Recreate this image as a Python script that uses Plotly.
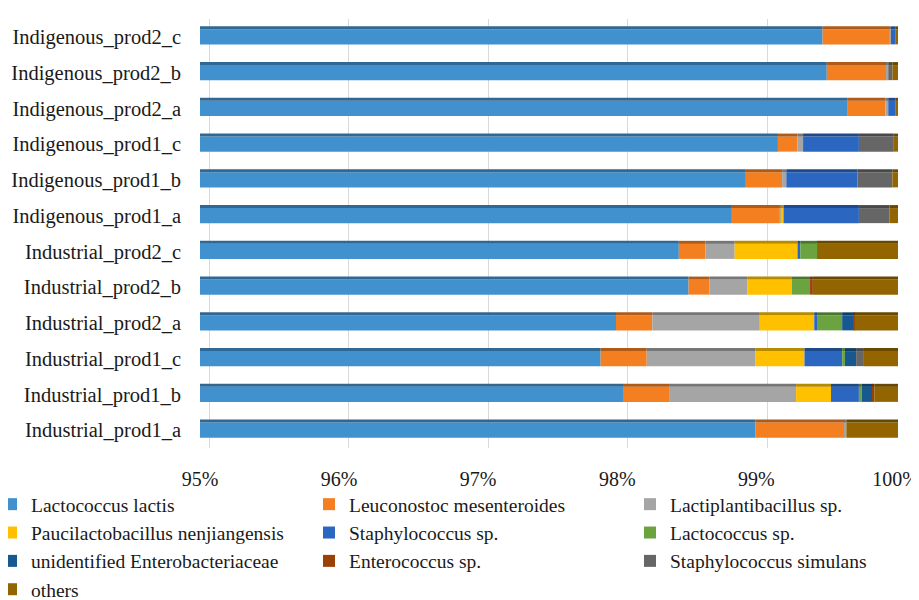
import plotly.graph_objects as go
import numpy as np

categories = [
    "Industrial_prod1_a", "Industrial_prod1_b", "Industrial_prod1_c",
    "Industrial_prod2_a", "Industrial_prod2_b", "Industrial_prod2_c",
    "Indigenous_prod1_a", "Indigenous_prod1_b", "Indigenous_prod1_c",
    "Indigenous_prod2_a", "Indigenous_prod2_b", "Indigenous_prod2_c",
]

lactococcus_lactis = [98.98, 98.03, 97.87, 97.98, 98.50, 98.43, 98.81, 98.91, 99.14, 99.64, 99.49, 99.46]
leuconostoc_mesenteroides = [0.64, 0.33, 0.33, 0.26, 0.15, 0.19, 0.34, 0.26, 0.14, 0.27, 0.43, 0.48]
lactiplantibacillus_sp = [0.01, 0.91, 0.78, 0.77, 0.27, 0.21, 0.01, 0.03, 0.04, 0.02, 0.01, 0.01]
paucilactobacillus_nenjiangensis = [0.00, 0.25, 0.35, 0.39, 0.32, 0.45, 0.02, 0.00, 0.00, 0.00, 0.00, 0.00]
staphylococcus_sp = [0.00, 0.20, 0.27, 0.02, 0.00, 0.02, 0.54, 0.51, 0.40, 0.05, 0.00, 0.03]
lactococcus_sp = [0.00, 0.02, 0.02, 0.18, 0.13, 0.12, 0.00, 0.00, 0.00, 0.00, 0.00, 0.00]
unidentified_enterobacteriaceae = [0.00, 0.08, 0.08, 0.08, 0.00, 0.00, 0.00, 0.00, 0.00, 0.00, 0.00, 0.00]
enterococcus_sp = [0.00, 0.01, 0.00, 0.01, 0.02, 0.00, 0.00, 0.00, 0.00, 0.00, 0.00, 0.00]
staphylococcus_simulans = [0.00, 0.00, 0.05, 0.00, 0.00, 0.00, 0.22, 0.25, 0.25, 0.00, 0.03, 0.00]
others = [0.37, 0.17, 0.25, 0.31, 0.61, 0.58, 0.06, 0.04, 0.03, 0.02, 0.04, 0.02]

x_tick_values = [95, 96, 97, 98, 99, 100]
x_tick_labels = ["95%", "96%", "97%", "98%", "99%", "100%"]

series = [
    ("Lactococcus lactis", lactococcus_lactis, "#4291CF", "legend"),
    ("Leuconostoc mesenteroides", leuconostoc_mesenteroides, "#F47F20", "legend2"),
    ("Lactiplantibacillus sp.", lactiplantibacillus_sp, "#A5A5A5", "legend3"),
    ("Paucilactobacillus nenjiangensis", paucilactobacillus_nenjiangensis, "#FFC000", "legend"),
    ("Staphylococcus sp.", staphylococcus_sp, "#2B67C1", "legend2"),
    ("Lactococcus sp.", lactococcus_sp, "#6AA33F", "legend3"),
    ("unidentified Enterobacteriaceae", unidentified_enterobacteriaceae, "#16588F", "legend"),
    ("Enterococcus sp.", enterococcus_sp, "#9A4108", "legend2"),
    ("Staphylococcus simulans", staphylococcus_simulans, "#666666", "legend3"),
    ("others", others, "#926500", "legend"),
]


def darken(hex_color, f=0.72):
    h = hex_color.lstrip("#")
    r, g, b = (int(h[i:i + 2], 16) for i in (0, 2, 4))
    return "rgb({},{},{})".format(int(r * f), int(g * f), int(b * f))


FONT = "Liberation Serif, Times New Roman, serif"
TEXT = "#1a1a1a"

# the page body adds an 8px offset; size the figure so it fills the 919x600 window
OFF = 8
W, H = 919 - OFF, 600 - OFF
PX_PER_UNIT = 139.6
X_MAX = 100 + 10 / PX_PER_UNIT
GRID_SHIFT = 9 / PX_PER_UNIT
LABEL_X_MAX = 100.09          # slight compression so "100%" stays inside the page
L, R, T, B = 200 - OFF, 11, 11, 152
PW = W - L - R
PH = H - T - B


def px_x(px_window):
    return (px_window - OFF - L) / PW


def px_y(py_window):
    return (H - B - (py_window - OFF)) / PH


fig = go.Figure()
cum = np.zeros(len(categories))
for name, vals, color, leg in series:
    v = np.array(vals, dtype=float)
    fig.add_trace(go.Bar(
        y=categories, x=v, base=cum.copy(), orientation="h",
        width=0.42, offset=-0.21, name=name,
        marker=dict(color=color, line=dict(width=0)),
        legend=leg,
    ))
    fig.add_trace(go.Bar(
        y=categories, x=v, base=cum.copy(), orientation="h",
        width=0.085, offset=0.21, name=name, showlegend=False,
        marker=dict(color=darken(color), line=dict(width=0)),
        hoverinfo="skip",
    ))
    cum = cum + v

# invisible trace to anchor the label axis
fig.add_trace(go.Scatter(x=[96], y=[categories[0]], xaxis="x2", mode="markers",
                         marker=dict(opacity=0), showlegend=False, hoverinfo="skip"))

legend_common = dict(
    xanchor="left", yanchor="top", orientation="v",
    bgcolor="rgba(0,0,0,0)", borderwidth=0,
    font=dict(family=FONT, size=19.5, color=TEXT),
    tracegroupgap=0,
)

legend_top = 485

fig.update_layout(
    width=W, height=H,
    margin=dict(l=L, r=R, t=T, b=B, autoexpand=False),
    paper_bgcolor="white", plot_bgcolor="white",
    barmode="overlay",
    font=dict(family=FONT, size=20, color=TEXT),
    xaxis=dict(
        range=[95, X_MAX],
        tickvals=[v + GRID_SHIFT for v in x_tick_values],
        showticklabels=False, showgrid=True, gridcolor="#D9D9D9", gridwidth=1,
        zeroline=False, showline=False, ticks="", automargin=False,
    ),
    xaxis2=dict(
        overlaying="x", anchor="y", side="bottom",
        range=[95, LABEL_X_MAX],
        tickvals=x_tick_values, ticktext=x_tick_labels,
        showgrid=False, zeroline=False, showline=False,
        ticks="outside", ticklen=13, tickcolor="rgba(0,0,0,0)",
        ticklabeloverflow="allow",
        automargin=False,
        tickfont=dict(family=FONT, size=20, color=TEXT),
    ),
    yaxis=dict(
        categoryorder="array", categoryarray=categories,
        range=[-0.5, len(categories) - 0.5],
        showgrid=False, zeroline=False, showline=False, ticks="",
        ticklabelstandoff=18, automargin=False,
        tickfont=dict(family=FONT, size=20.5, color=TEXT),
    ),
    legend=dict(x=px_x(-9), y=px_y(legend_top), **legend_common),
    legend2=dict(x=px_x(309), y=px_y(legend_top), **legend_common),
    legend3=dict(x=px_x(630), y=px_y(legend_top), **legend_common),
)

fig.write_html("out.html")
